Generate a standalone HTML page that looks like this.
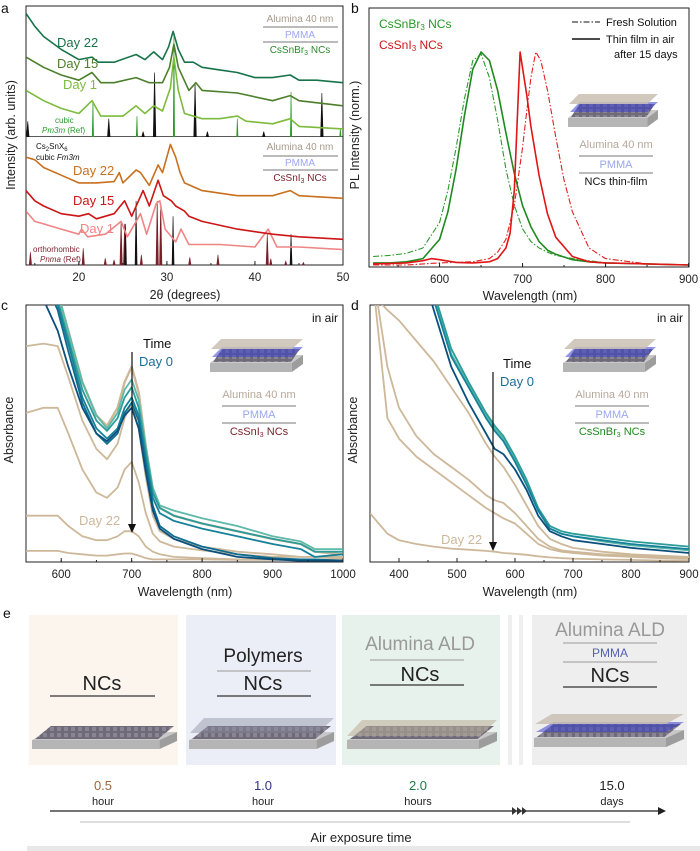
<!DOCTYPE html>
<html><head><meta charset="utf-8">
<style>
html,body{margin:0;padding:0;background:#fff;}
svg{display:block;font-family:"Liberation Sans",Arial,sans-serif;}
</style></head>
<body>
<svg id="fig" width="700" height="851" viewBox="0 0 700 851" xmlns="http://www.w3.org/2000/svg">
<defs>
<clipPath id="clipA"><rect x="26" y="6" width="317" height="259"/></clipPath>
<clipPath id="clipB"><rect x="369" y="8" width="320" height="259"/></clipPath>
<clipPath id="clipC"><rect x="26" y="305" width="317" height="257"/></clipPath>
<clipPath id="clipD"><rect x="370" y="305" width="319" height="257"/></clipPath>
<pattern id="ncpat" width="7" height="6" patternUnits="userSpaceOnUse"><rect width="7" height="6" fill="#6e6a78"/><rect x="1" y="1" width="4" height="4" fill="#8a8594"/></pattern>
</defs>
<g id="gA"></g>
<g id="gB"></g>
<g id="gC"></g>
<g id="gD"></g>
<g id="gE"></g>
</svg>
<script>
// ---------- Panel a data (XRD) ----------
const aTheta22g=[14,15,16,18,20,21.5,22.2,24,26.5,27.5,28.5,29.5,30.2,30.7,31.3,32,33,34,36,38,40,42,44,45,47,50];
const aDay22g=[98,93,89,84,80,81,79,79,82,80,83,80,85,91,84,79,79,77,76,75,73,73,74,72,72,71];
const aTheta15g=[14,15,16,18,20,21.5,22.5,24,26.5,28,29.5,30.3,30.8,31.3,32.5,33.3,34,38,42,44,45,50];
const aDay15g=[81,79,77,74,72,75,71,71,73,71,71,77,86,77,68,71,68,67,64,66,64,62];
const aTheta1g=[14,15,16,18,20,21.5,22.5,25,26.5,27.5,28.5,29.5,30.4,30.8,31.3,32,34,36,38,39,42,44,45,50];
const aDay1g=[68,66,64,61,59,64,58,58,62,59,62,60,69,81,68,59,57,57,58,56,55,57,54,53];
const aTheta22r=[14,15,16,18,20,22,24,24.6,25,26.5,27,28,29,29.5,30.4,31,31.5,32,34,38,42,44,45,50];
const aDay22r=[42,41,38,35,32,32,32.5,36,32,37,36,31,39,36,47,42,36,32,29,27,27,29,27,26];
const aTheta15r=[14,15,16,18,20,21.1,22,24,25.2,26,27.3,28,29,29.6,30.5,31,32,32.5,34,38,42,45,50];
const aDay15r=[29,25,23,20,19,20,18,20,25,19,29,23,33,27,25,23,21,19,17,14,12,11,10];
const aTheta1r=[14,15,16,18,20,20.3,21,23,24.8,25.5,27,27.7,28.8,29.2,29.8,31,31.6,32.5,36,40,41.5,42.5,45,50];
const aDay1r=[21,17,16,14,12,14,11,12,17,11,20,12,24,25,14,9,14,8,8,7,14,7,7,6];
const aRefCubicPos=[21.6,26.6,30.8,38,44.1,49.7];
const aRefCubicH=[64,58,90,57,67.5,53];
const aRefCs2Pos=[14.2,23.4,27.3,28.6,33.2,34.6,41,47.6];
const aRefCs2H=[56,57,52,75,71,52,52,67];
const aRefCs2LowPos=[25.3,26.5,30.7,44.1];
const aRefCs2LowH=[16,25,19,12];
const aRefOrthoPos=[14.5,20.5,23,24,24.8,25.2,27.1,28.9,29.3,32.6,35.8,41.4,41.8,43.5,45.5];
const aRefOrthoH=[5,6.5,2.6,2,17,16,4,25,24,3,4,12,2.5,1.5,1];
const aXTicks=[20,30,40,50];
// ---------- Panel b data (PL) ----------
const bWl=[520,540,560,580,600,610,620,630,640,650,660,670,680,690,700,710,720,730,740,760,780,800,850,900];
const bGreenFresh=[0.04,0.045,0.055,0.08,0.2,0.35,0.55,0.78,0.96,0.99,0.88,0.68,0.45,0.28,0.17,0.11,0.08,0.06,0.045,0.03,0.02,0.01,0.005,0];
const bGreenFilm=[0.01,0.01,0.015,0.03,0.12,0.25,0.45,0.7,0.92,1.0,0.96,0.82,0.62,0.43,0.28,0.18,0.11,0.07,0.05,0.025,0.015,0.01,0.005,0];
const bWlRed=[520,560,580,590,600,620,640,660,670,680,685,690,697,705,710,720,730,740,760,780,800,850,900];
const bRedFilm=[0.005,0.01,0.02,0.03,0.025,0.012,0.01,0.015,0.03,0.08,0.15,0.35,1.0,0.8,0.65,0.42,0.24,0.13,0.04,0.015,0.01,0.005,0];
const bWlRed2=[520,560,600,640,660,670,680,690,700,705,710,716,722,730,740,750,760,780,800,850,900];
const bRedFresh=[0,0,0.01,0.015,0.03,0.06,0.12,0.28,0.55,0.72,0.88,1.0,0.96,0.82,0.6,0.4,0.25,0.08,0.03,0.005,0];
const bXTicks=[600,700,800,900];
// ---------- Panel c data ----------
const cWl=[550,575,595,610,630,650,665,680,690,700,710,720,730,740,760,800,850,900,940,960,1000];
const cTeal1=[1.2,1.1,0.98,0.82,0.62,0.5,0.46,0.5,0.58,0.62,0.55,0.38,0.22,0.14,0.1,0.06,0.03,0.015,0.01,0.01,0.005];
const cTeal2=[1.25,1.12,1.0,0.85,0.64,0.52,0.48,0.52,0.6,0.64,0.57,0.4,0.25,0.19,0.16,0.13,0.1,0.07,0.05,0.02,0.03];
const cTeal3=[1.3,1.15,1.02,0.87,0.67,0.55,0.51,0.56,0.64,0.68,0.6,0.43,0.27,0.21,0.18,0.15,0.12,0.09,0.07,0.04,0.04];
const cTeal4=[1.3,1.17,1.05,0.9,0.7,0.57,0.52,0.58,0.67,0.71,0.63,0.45,0.29,0.22,0.2,0.17,0.14,0.1,0.08,0.05,0.05];
const cTeal5=[1.1,1.02,0.9,0.76,0.6,0.5,0.47,0.51,0.57,0.6,0.52,0.35,0.2,0.13,0.09,0.05,0.02,0.01,0.005,0.005,0.005];
const cTan1=[1.3,1.18,1.05,0.9,0.7,0.57,0.53,0.6,0.7,0.76,0.66,0.45,0.28,0.21,0.18,0.15,0.12,0.09,0.07,0.04,0.03];
const cTan2=[0.84,0.85,0.84,0.72,0.55,0.44,0.4,0.46,0.56,0.62,0.52,0.33,0.18,0.12,0.09,0.06,0.04,0.03,0.02,0.02,0.02];
const cTan3=[0.58,0.6,0.6,0.5,0.36,0.27,0.25,0.29,0.36,0.39,0.31,0.19,0.11,0.08,0.06,0.045,0.03,0.02,0.02,0.02,0.015];
const cTan4=[0.18,0.18,0.18,0.14,0.1,0.085,0.085,0.1,0.12,0.12,0.1,0.06,0.04,0.03,0.02,0.015,0.01,0.01,0.01,0.01,0.01];
const cTan5=[0.043,0.043,0.043,0.035,0.03,0.025,0.025,0.03,0.033,0.033,0.025,0.015,0.01,0.01,0.01,0.01,0.008,0.008,0.008,0.008,0.008];
const cXTicks=[600,700,800,900,1000];
// ---------- Panel d data ----------
const dWl=[350,380,400,430,460,490,520,550,565,580,600,620,640,660,680,700,750,800,850,900];
const dTeal1=[1.6,1.5,1.4,1.2,0.98,0.76,0.62,0.5,0.44,0.42,0.36,0.28,0.18,0.12,0.1,0.085,0.07,0.055,0.045,0.035];
const dTeal2=[1.6,1.5,1.4,1.22,1.02,0.8,0.68,0.56,0.51,0.47,0.39,0.3,0.2,0.13,0.11,0.1,0.085,0.07,0.06,0.05];
const dTeal3=[1.6,1.5,1.4,1.24,1.05,0.83,0.7,0.58,0.53,0.49,0.41,0.32,0.21,0.14,0.12,0.11,0.095,0.08,0.07,0.06];
const dTeal4=[1.6,1.5,1.4,1.23,1.03,0.81,0.69,0.57,0.52,0.48,0.4,0.31,0.2,0.13,0.11,0.1,0.08,0.065,0.055,0.045];
const dTan1=[1.05,0.98,0.94,0.86,0.78,0.68,0.58,0.46,0.41,0.37,0.3,0.22,0.14,0.09,0.07,0.055,0.04,0.03,0.025,0.02];
const dTan2=[1.2,0.76,0.6,0.49,0.42,0.37,0.32,0.26,0.24,0.23,0.19,0.14,0.09,0.06,0.045,0.04,0.03,0.025,0.02,0.015];
const dTan3=[1.2,0.56,0.48,0.41,0.36,0.31,0.26,0.21,0.19,0.17,0.15,0.11,0.07,0.05,0.04,0.035,0.025,0.02,0.015,0.012];
const dTan4=[0.19,0.11,0.085,0.07,0.06,0.052,0.048,0.043,0.04,0.035,0.032,0.028,0.022,0.018,0.015,0.013,0.01,0.008,0.006,0.005];
const dXTicks=[400,500,600,700,800,900];
// ---------- Panel e data ----------
const eTimes=["0.5","1.0","2.0","15.0"];
const eUnits=["hour","hour","hours","days"];

const NS="http://www.w3.org/2000/svg";
function mk(parent,tag,attrs){const e=document.createElementNS(NS,tag);for(const k in attrs)e.setAttribute(k,attrs[k]);parent.appendChild(e);return e;}
function txt(parent,x,y,s,size,fill,anchor,extra){const t=mk(parent,'text',{x:x,y:y,'font-size':size,fill:fill,'text-anchor':anchor||'start'});if(extra)for(const k in extra)t.setAttribute(k,extra[k]);t.innerHTML=s;return t;}

const xA=t=>26+(t-14)*317/36, yA=v=>265-v*2.567;
const xB=w=>369+(w-515)*0.83, yB=v=>265-v*213;
const xC=w=>26+(w-550)*317/450, yC=v=>562-v*257;
const xD=w=>370+(w-350)*319/550, yD=v=>562-v*257;

function series(g,xs,ys,fx,fy,color,w,dash,name,clip){
  const pts=xs.map((x,i)=>fx(x).toFixed(1)+','+fy(ys[i]).toFixed(1)).join(' ');
  const p=mk(g,'polyline',{points:pts,fill:'none',stroke:color,'stroke-width':w,'stroke-linejoin':'round','clip-path':'url(#'+clip+')'});
  if(dash)p.setAttribute('stroke-dasharray',dash);
  
  
  return p;
}
function sticks(g,pos,h,base,fx,fy,color,name,wid){
  pos.forEach((t,i)=>{
    const x=fx(t);
    const s=mk(g,'polygon',{points:(x-wid)+','+fy(base)+' '+x+','+fy(h[i])+' '+(x+wid)+','+fy(base),fill:color,stroke:color,'stroke-width':0.6});
    
    
  });
}
function frame(g,x,y,w,h,name){const r=mk(g,'rect',{x:x,y:y,width:w,height:h,fill:'none',stroke:'#222','stroke-width':1});}
function xticks(g,ticks,fx,yb,minorStep,lo,hi,name){
  ticks.forEach(t=>{mk(g,'line',{x1:fx(t),x2:fx(t),y1:yb,y2:yb-4,stroke:'#222'});
    const l=txt(g,fx(t),yb+16,String(t),11.5,'#222','middle');});
  for(let t=lo;t<=hi;t+=minorStep){mk(g,'line',{x1:fx(t),x2:fx(t),y1:yb,y2:yb-2,stroke:'#222'});}
}
function device(g,x,y,w,withP){
  mk(g,'polygon',{points:`${x},${y+18} ${x+w*0.12},${y+10} ${x+w},${y+10} ${x+w*0.88},${y+18}`,fill:'#c8c8c8'});
  mk(g,'rect',{x:x,y:y+18,width:w*0.88,height:9,fill:'#b5b5b5'});
  mk(g,'polygon',{points:`${x+w*0.88},${y+18} ${x+w},${y+10} ${x+w},${y+19} ${x+w*0.88},${y+27}`,fill:'#9d9d9d'});
  mk(g,'polygon',{points:`${x+3},${y+17} ${x+w*0.13},${y+4} ${x+w-3},${y+4} ${x+w*0.87},${y+17}`,fill:'url(#ncpat)'});
  if(withP){
    mk(g,'polygon',{points:`${x+2},${y+12} ${x+w*0.13},${y+2} ${x+w},${y+2} ${x+w*0.88},${y+12}`,fill:'#3b3fd0','fill-opacity':0.55});
    mk(g,'polygon',{points:`${x+1},${y+4} ${x+w*0.12},${y-6} ${x+w},${y-6} ${x+w*0.88},${y+4}`,fill:'#c9bfb2','fill-opacity':0.85});
  }
}
function stack(g,cx,y,label,labelColor,w){
  txt(g,cx,y,'Alumina 40 nm',11,'#b7a89a','middle');
  mk(g,'line',{x1:cx-w/2,x2:cx+w/2,y1:y+8,y2:y+8,stroke:'#777'});
  txt(g,cx,y+20,'PMMA',11,'#9aa7ef','middle');
  mk(g,'line',{x1:cx-w/2,x2:cx+w/2,y1:y+25,y2:y+25,stroke:'#777'});
  txt(g,cx,y+37,label,11,labelColor,'middle');
}

// ===== Panel a =====
(function(){
const g=document.getElementById('gA');
txt(g,1,13,'a',14,'#111');
frame(g,26,6,317,259,'xrd-plot-frame');
mk(g,'line',{x1:26,x2:343,y1:yA(50),y2:yA(50),stroke:'#222','stroke-width':0.8});
sticks(g,aRefCs2Pos,aRefCs2H,50,xA,yA,'#111','ref-cs2snx6-upper',1.3);
sticks(g,aRefCubicPos,aRefCubicH,50,xA,yA,'#2a9a2a','ref-cubic-pm3m',0.7);
sticks(g,aRefOrthoPos,aRefOrthoH,0,xA,yA,'#7a1f2a','ref-orthorhombic-pnma',1.2);
sticks(g,aRefCs2LowPos,aRefCs2LowH,0,xA,yA,'#111','ref-cs2snx6-lower',1);
series(g,aTheta1g,aDay1g,xA,yA,'#7cbb3c',1.6,null,'cssnbr3-day1','clipA');
series(g,aTheta15g,aDay15g,xA,yA,'#4c7f2b',1.6,null,'cssnbr3-day15','clipA');
series(g,aTheta22g,aDay22g,xA,yA,'#17734a',1.6,null,'cssnbr3-day22','clipA');
series(g,aTheta1r,aDay1r,xA,yA,'#f08585',1.6,null,'cssni3-day1','clipA');
series(g,aTheta15r,aDay15r,xA,yA,'#cc1515',1.6,null,'cssni3-day15','clipA');
series(g,aTheta22r,aDay22r,xA,yA,'#c8701e',1.6,null,'cssni3-day22','clipA');
xticks(g,aXTicks,xA,265,5,15,50,'x-tick-label');
txt(g,185,299,'2θ (degrees)',12.5,'#222','middle',{});
txt(g,15,135,'Intensity (arb. units)',12.5,'#222','middle',{transform:'rotate(-90 15 135)',});
txt(g,57,47,'Day 22',13,'#17734a');txt(g,57,68,'Day 15',13,'#4c7f2b');txt(g,63,89,'Day 1',13,'#7cbb3c');
txt(g,55,123,'cubic',8,'#2a9a2a');txt(g,42,133,'<tspan font-style="italic">Pm3m</tspan> (Ref)',8,'#2a9a2a');
txt(g,36,149,'Cs<tspan font-size="6" dy="2">2</tspan><tspan dy="-2">SnX</tspan><tspan font-size="6" dy="2">6</tspan>',8,'#111');
txt(g,36,160,'cubic <tspan font-style="italic">Fm3m</tspan>',8,'#111');
txt(g,73,175,'Day 22',13,'#c8701e');txt(g,73,205,'Day 15',13,'#cc1515');txt(g,80,233,'Day 1',13,'#f08585');
txt(g,33,252,'orthorhombic',8,'#7a1f2a');txt(g,40,262,'<tspan font-style="italic">Pnma</tspan> (Ref)',8,'#7a1f2a');
txt(g,300,22,'Alumina 40 nm',10,'#a89a8c','middle');mk(g,'line',{x1:263,x2:338,y1:27,y2:27,stroke:'#777'});
txt(g,300,38,'PMMA',10,'#9aa7ef','middle');mk(g,'line',{x1:263,x2:338,y1:42,y2:42,stroke:'#777'});
txt(g,300,53,'CsSnBr<tspan font-size="7" dy="2">3</tspan><tspan dy="-2"> NCs</tspan>',10,'#2a8a2a','middle');
txt(g,300,150,'Alumina 40 nm',10,'#a89a8c','middle');mk(g,'line',{x1:263,x2:338,y1:156,y2:156,stroke:'#777'});
txt(g,300,166,'PMMA',10,'#9aa7ef','middle');mk(g,'line',{x1:263,x2:338,y1:170,y2:170,stroke:'#777'});
txt(g,300,181,'CsSnI<tspan font-size="7" dy="2">3</tspan><tspan dy="-2"> NCs</tspan>',10,'#7a1f2a','middle');
})();

// ===== Panel b =====
(function(){
const g=document.getElementById('gB');
txt(g,351,13,'b',14,'#111');
frame(g,369,8,320,259,'pl-plot-frame');
series(g,bWl,bGreenFresh,xB,yB,'#2a9a2a',1.1,'6,2,1.5,2','cssnbr3-fresh-solution','clipB');
series(g,bWl,bGreenFilm,xB,yB,'#1f8a1f',1.6,null,'cssnbr3-thin-film','clipB');
series(g,bWlRed2,bRedFresh,xB,yB,'#e02020',1.1,'6,2,1.5,2','cssni3-fresh-solution','clipB');
series(g,bWlRed,bRedFilm,xB,yB,'#e01515',1.6,null,'cssni3-thin-film','clipB');
xticks(g,bXTicks,xB,267,50,550,900,'x-tick-label');
txt(g,530,300,'Wavelength (nm)',12.5,'#222','middle',{});
txt(g,359,135,'PL Intensity (norm.)',12.5,'#222','middle',{transform:'rotate(-90 359 135)',});
txt(g,379,28,'CsSnBr<tspan font-size="8" dy="2">3</tspan><tspan dy="-2"> NCs</tspan>',12,'#1f9a1f');
txt(g,379,49,'CsSnI<tspan font-size="8" dy="2">3</tspan><tspan dy="-2"> NCs</tspan>',12,'#d01515');
const l1=mk(g,'line',{x1:572,x2:600,y1:22,y2:22,stroke:'#111','stroke-dasharray':'6,2,1.5,2'});
txt(g,606,26,'Fresh Solution',11,'#111');
const l2=mk(g,'line',{x1:572,x2:600,y1:39,y2:39,stroke:'#111','stroke-width':1.5});
txt(g,606,43,'Thin film in air',11,'#111');txt(g,614,58,'after 15 days',11,'#111');
device(g,568,100,90,true);
stack(g,616,148,'NCs thin-film','#111',74);
})();

// ===== Panel c =====
(function(){
const g=document.getElementById('gC');
txt(g,1,310,'c',14,'#111');
frame(g,26,305,317,257,'abs-c-plot-frame');
const tans=[cTan5,cTan4,cTan3,cTan2];const tn=['day22','day15','day8','day4'];
tans.forEach((s,i)=>series(g,cWl,s,xC,yC,'#cdb89a',1.8,null,'cssni3-'+tn[i],'clipC'));
series(g,cWl,cTan1,xC,yC,'#cdb89a',2.4,null,'cssni3-day2','clipC');
series(g,cWl,cTeal4,xC,yC,'#5db9a8',1.8,null,'cssni3-day1','clipC');
series(g,cWl,cTeal3,xC,yC,'#2a9c9a',1.8,null,'cssni3-day05','clipC');
series(g,cWl,cTeal2,xC,yC,'#16819a',1.8,null,'cssni3-day02','clipC');
series(g,cWl,cTeal1,xC,yC,'#0e6d8e',1.8,null,'cssni3-day01','clipC');
series(g,cWl,cTeal5,xC,yC,'#0b4f7d',1.8,null,'cssni3-day0','clipC');
xticks(g,cXTicks,xC,562,50,550,1000,'x-tick-label');
txt(g,185,596,'Wavelength (nm)',12.5,'#222','middle',{});
txt(g,13,430,'Absorbance',12.5,'#222','middle',{transform:'rotate(-90 13 430)',});
txt(g,338,322,'in air',12,'#111','end');
txt(g,143,348,'Time',13,'#111');txt(g,139,366,'Day 0',13,'#1a6e9a');
mk(g,'line',{x1:132,x2:132,y1:352,y2:526,stroke:'#111','stroke-width':1.2});
mk(g,'polygon',{points:'128,524 136,524 132,533',fill:'#111'});
txt(g,79,525,'Day 22',13,'#cdb89a');
device(g,210,345,93,true);
stack(g,259,398,'CsSnI<tspan font-size="7" dy="2">3</tspan><tspan dy="-2"> NCs</tspan>','#7a1f2a',74);
})();

// ===== Panel d =====
(function(){
const g=document.getElementById('gD');
txt(g,351,310,'d',14,'#111');
frame(g,370,305,319,257,'abs-d-plot-frame');
[dTan4,dTan3,dTan2,dTan1].forEach((s,i)=>series(g,dWl,s,xD,yD,'#cdb89a',1.8,null,'cssnbr3-tan-'+i,'clipD'));
series(g,dWl,dTeal4,xD,yD,'#5db9a8',1.8,null,'cssnbr3-day1','clipD');
series(g,dWl,dTeal3,xD,yD,'#2a9c9a',1.8,null,'cssnbr3-day05','clipD');
series(g,dWl,dTeal2,xD,yD,'#16819a',1.8,null,'cssnbr3-day02','clipD');
series(g,dWl,dTeal1,xD,yD,'#0b4f7d',1.8,null,'cssnbr3-day0','clipD');
xticks(g,dXTicks,xD,562,50,350,900,'x-tick-label');
txt(g,530,596,'Wavelength (nm)',12.5,'#222','middle',{});
txt(g,357,430,'Absorbance',12.5,'#222','middle',{transform:'rotate(-90 357 430)',});
txt(g,683,322,'in air',12,'#111','end');
txt(g,503,368,'Time',13,'#111');txt(g,500,386,'Day 0',13,'#1a6e9a');
mk(g,'line',{x1:493,x2:493,y1:372,y2:544,stroke:'#111','stroke-width':1.2});
mk(g,'polygon',{points:'489,542 497,542 493,551',fill:'#111'});
txt(g,441,544,'Day 22',13,'#cdb89a');
device(g,563,345,93,true);
stack(g,612,398,'CsSnBr<tspan font-size="7" dy="2">3</tspan><tspan dy="-2"> NCs</tspan>','#1f8a1f',74);
})();

// ===== Panel e =====
(function(){
const g=document.getElementById('gE');
txt(g,3,618,'e',14,'#111');
const boxes=[[29,149,'#fbf5ee'],[186,150,'#eceef7'],[342,158,'#e8f2ec'],[532,155,'#eeeeee']];
boxes.forEach((b,i)=>{const r=mk(g,'rect',{x:b[0],y:615,width:b[1],height:150,fill:b[2]});
  
  });
mk(g,'rect',{x:508,y:615,width:4,height:150,fill:'#efefef'});
mk(g,'rect',{x:519,y:615,width:4,height:150,fill:'#efefef'});
txt(g,102,690,'NCs',20,'#222','middle');mk(g,'line',{x1:50,x2:155,y1:696,y2:696,stroke:'#333','stroke-width':1.2});
device(g,32,722,145,false);
txt(g,263,662,'Polymers',19,'#222','middle');mk(g,'line',{x1:217,x2:311,y1:671,y2:671,stroke:'#999'});
txt(g,263,690,'NCs',20,'#222','middle');mk(g,'line',{x1:217,x2:311,y1:696,y2:696,stroke:'#333','stroke-width':1.2});
device(g,189,722,145,false);
mk(g,'polygon',{points:'190,733 204,718 334,718 318,733',fill:'#8c8ea0','fill-opacity':0.45});
txt(g,420,650,'Alumina ALD',19,'#999','middle');mk(g,'line',{x1:370,x2:464,y1:660,y2:660,stroke:'#999'});
txt(g,420,681,'NCs',20,'#222','middle');mk(g,'line',{x1:370,x2:464,y1:685,y2:685,stroke:'#333','stroke-width':1.2});
device(g,347,722,150,false);
mk(g,'polygon',{points:'347,736 362,720 497,720 480,736',fill:'#b9ad98','fill-opacity':0.55});
txt(g,610,636,'Alumina ALD',19,'#999','middle');mk(g,'line',{x1:563,x2:657,y1:643,y2:643,stroke:'#999'});
txt(g,610,657,'PMMA',12,'#5561b0','middle');mk(g,'line',{x1:563,x2:657,y1:662,y2:662,stroke:'#999'});
txt(g,610,682,'NCs',20,'#222','middle');mk(g,'line',{x1:563,x2:657,y1:687,y2:687,stroke:'#333','stroke-width':1.2});
device(g,534,720,150,true);
const tx=[103,263,418,612];const tc=['#a0683a','#33338a','#1f7a4a','#222'];
eTimes.forEach((t,i)=>{const a=txt(g,tx[i],790,t,13,tc[i],'middle');
  
  
  txt(g,tx[i],805,eUnits[i],11,'#222','middle');});
const ax=mk(g,'line',{x1:50,x2:660,y1:811,y2:811,stroke:'#222','stroke-width':1.3});


mk(g,'polygon',{points:'658,807 666,811 658,815',fill:'#222'});
[512,517,522].forEach(x=>mk(g,'polygon',{points:`${x},807 ${x+5},811 ${x},815`,fill:'#333'}));
mk(g,'line',{x1:80,x2:630,y1:822,y2:822,stroke:'#bbb'});
txt(g,361,842,'Air exposure time',13,'#222','middle',{});
mk(g,'rect',{x:27,y:846,width:673,height:5,fill:'#e8e8e8'});
})();
</script>
</body></html>
